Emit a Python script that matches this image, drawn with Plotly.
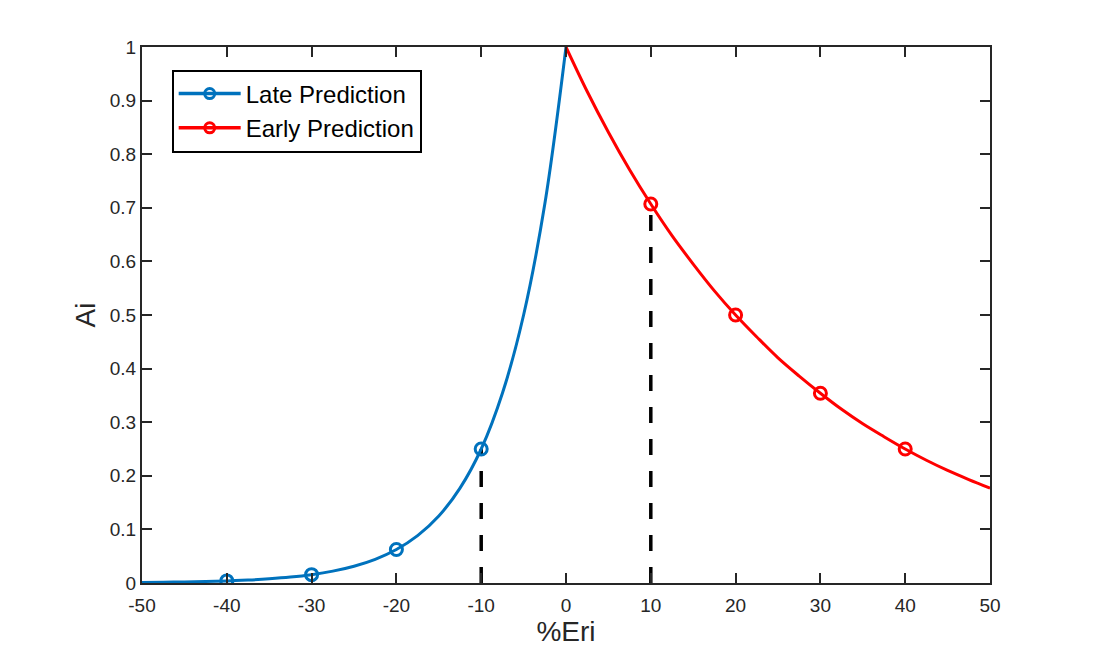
import plotly.graph_objects as go

# curve values
late_x = [-50, -47.5, -45, -42.5, -40, -37.5, -35, -32.5, -30, -27.5, -25, -22.5,
          -20, -17.5, -15, -12.5, -10, -7.5, -5, -2.5, 0]
late_y = [0.001, 0.0014, 0.002, 0.0028, 0.0039, 0.0055, 0.0078, 0.011, 0.0156, 0.0221,
          0.0313, 0.0442, 0.0625, 0.0884, 0.125, 0.177, 0.25, 0.354, 0.5, 0.707, 1.0]
early_x = [0, 2.5, 5, 7.5, 10, 12.5, 15, 17.5, 20, 22.5, 25, 27.5, 30, 32.5, 35,
           37.5, 40, 42.5, 45, 47.5, 50]
early_y = [1.0, 0.917, 0.841, 0.771, 0.707, 0.648, 0.595, 0.545, 0.5, 0.459, 0.42,
           0.386, 0.354, 0.324, 0.297, 0.273, 0.25, 0.229, 0.21, 0.193, 0.177]

# marker points
late_mx = [-40, -30, -20, -10]
late_my = [0.0039, 0.0156, 0.0625, 0.25]
early_mx = [10, 20, 30, 40]
early_my = [0.707, 0.5, 0.354, 0.25]

# dashed guide lines
guide_x = [-10, 10]
guide_top = [0.25, 0.707]

# tick labels (plain hyphen like the original)
x_ticks = [-50, -40, -30, -20, -10, 0, 10, 20, 30, 40, 50]
x_labels = ["-50", "-40", "-30", "-20", "-10", "0", "10", "20", "30", "40", "50"]
y_ticks = [0, 0.1, 0.2, 0.3, 0.4, 0.5, 0.6, 0.7, 0.8, 0.9, 1]
y_labels = ["0", "0.1", "0.2", "0.3", "0.4", "0.5", "0.6", "0.7", "0.8", "0.9", "1"]

blue = "#0072BD"
red = "#FF0000"
ink = "#262626"
fnt = "Liberation Sans, Arial"

fig = go.Figure()

for gx, gt in zip(guide_x, guide_top):
    fig.add_trace(go.Scatter(x=[gx, gx], y=[0, gt], mode="lines",
                             line=dict(color="black", width=3.5, dash="16px,16px"),
                             showlegend=False, hoverinfo="skip"))

fig.add_trace(go.Scatter(x=late_x, y=late_y, mode="lines", line=dict(color=blue, width=3, shape="spline"),
                         showlegend=False))
fig.add_trace(go.Scatter(x=early_x, y=early_y, mode="lines", line=dict(color=red, width=3, shape="spline"),
                         showlegend=False))
fig.add_trace(go.Scatter(x=late_mx, y=late_my, mode="markers",
                         marker=dict(symbol="circle-open", size=12, color=blue, line=dict(width=3)),
                         showlegend=False))
fig.add_trace(go.Scatter(x=early_mx, y=early_my, mode="markers",
                         marker=dict(symbol="circle-open", size=12, color=red, line=dict(width=3)),
                         showlegend=False))

# legend-only entries
fig.add_trace(go.Scatter(x=[None], y=[None], mode="lines+markers", name="Late Prediction",
                         line=dict(color=blue, width=3.5),
                         marker=dict(symbol="circle-open", size=10, color=blue, line=dict(width=3))))
fig.add_trace(go.Scatter(x=[None], y=[None], mode="lines+markers", name="Early Prediction",
                         line=dict(color=red, width=3.5),
                         marker=dict(symbol="circle-open", size=10, color=red, line=dict(width=3))))

axis_common = dict(showline=True, linecolor=ink, linewidth=2, mirror="ticks", ticks="inside",
                   ticklen=10, tickwidth=2, tickcolor=ink, showgrid=False, zeroline=False,
                   tickfont=dict(family=fnt, size=19, color=ink))

fig.update_layout(
    width=1094, height=656,
    paper_bgcolor="white", plot_bgcolor="white",
    margin=dict(l=134, r=112, t=39, b=81),
    font=dict(family=fnt, color=ink),
    xaxis=dict(range=[-50, 50], tickmode="array", tickvals=x_ticks, ticktext=x_labels,
               ticklabelstandoff=4,
               title=dict(text="%Eri", font=dict(size=28), standoff=6), **axis_common),
    yaxis=dict(range=[0, 1], tickmode="array", tickvals=y_ticks, ticktext=y_labels,
               title=dict(text="Ai", font=dict(size=28), standoff=6), **axis_common),
    legend=dict(x=0.035, y=0.958, xanchor="left", yanchor="top", bgcolor="white",
                bordercolor="black", borderwidth=2, itemwidth=62,
                font=dict(family=fnt, size=24, color="black"),
                tracegroupgap=0),
)

fig.write_html("out.html")
